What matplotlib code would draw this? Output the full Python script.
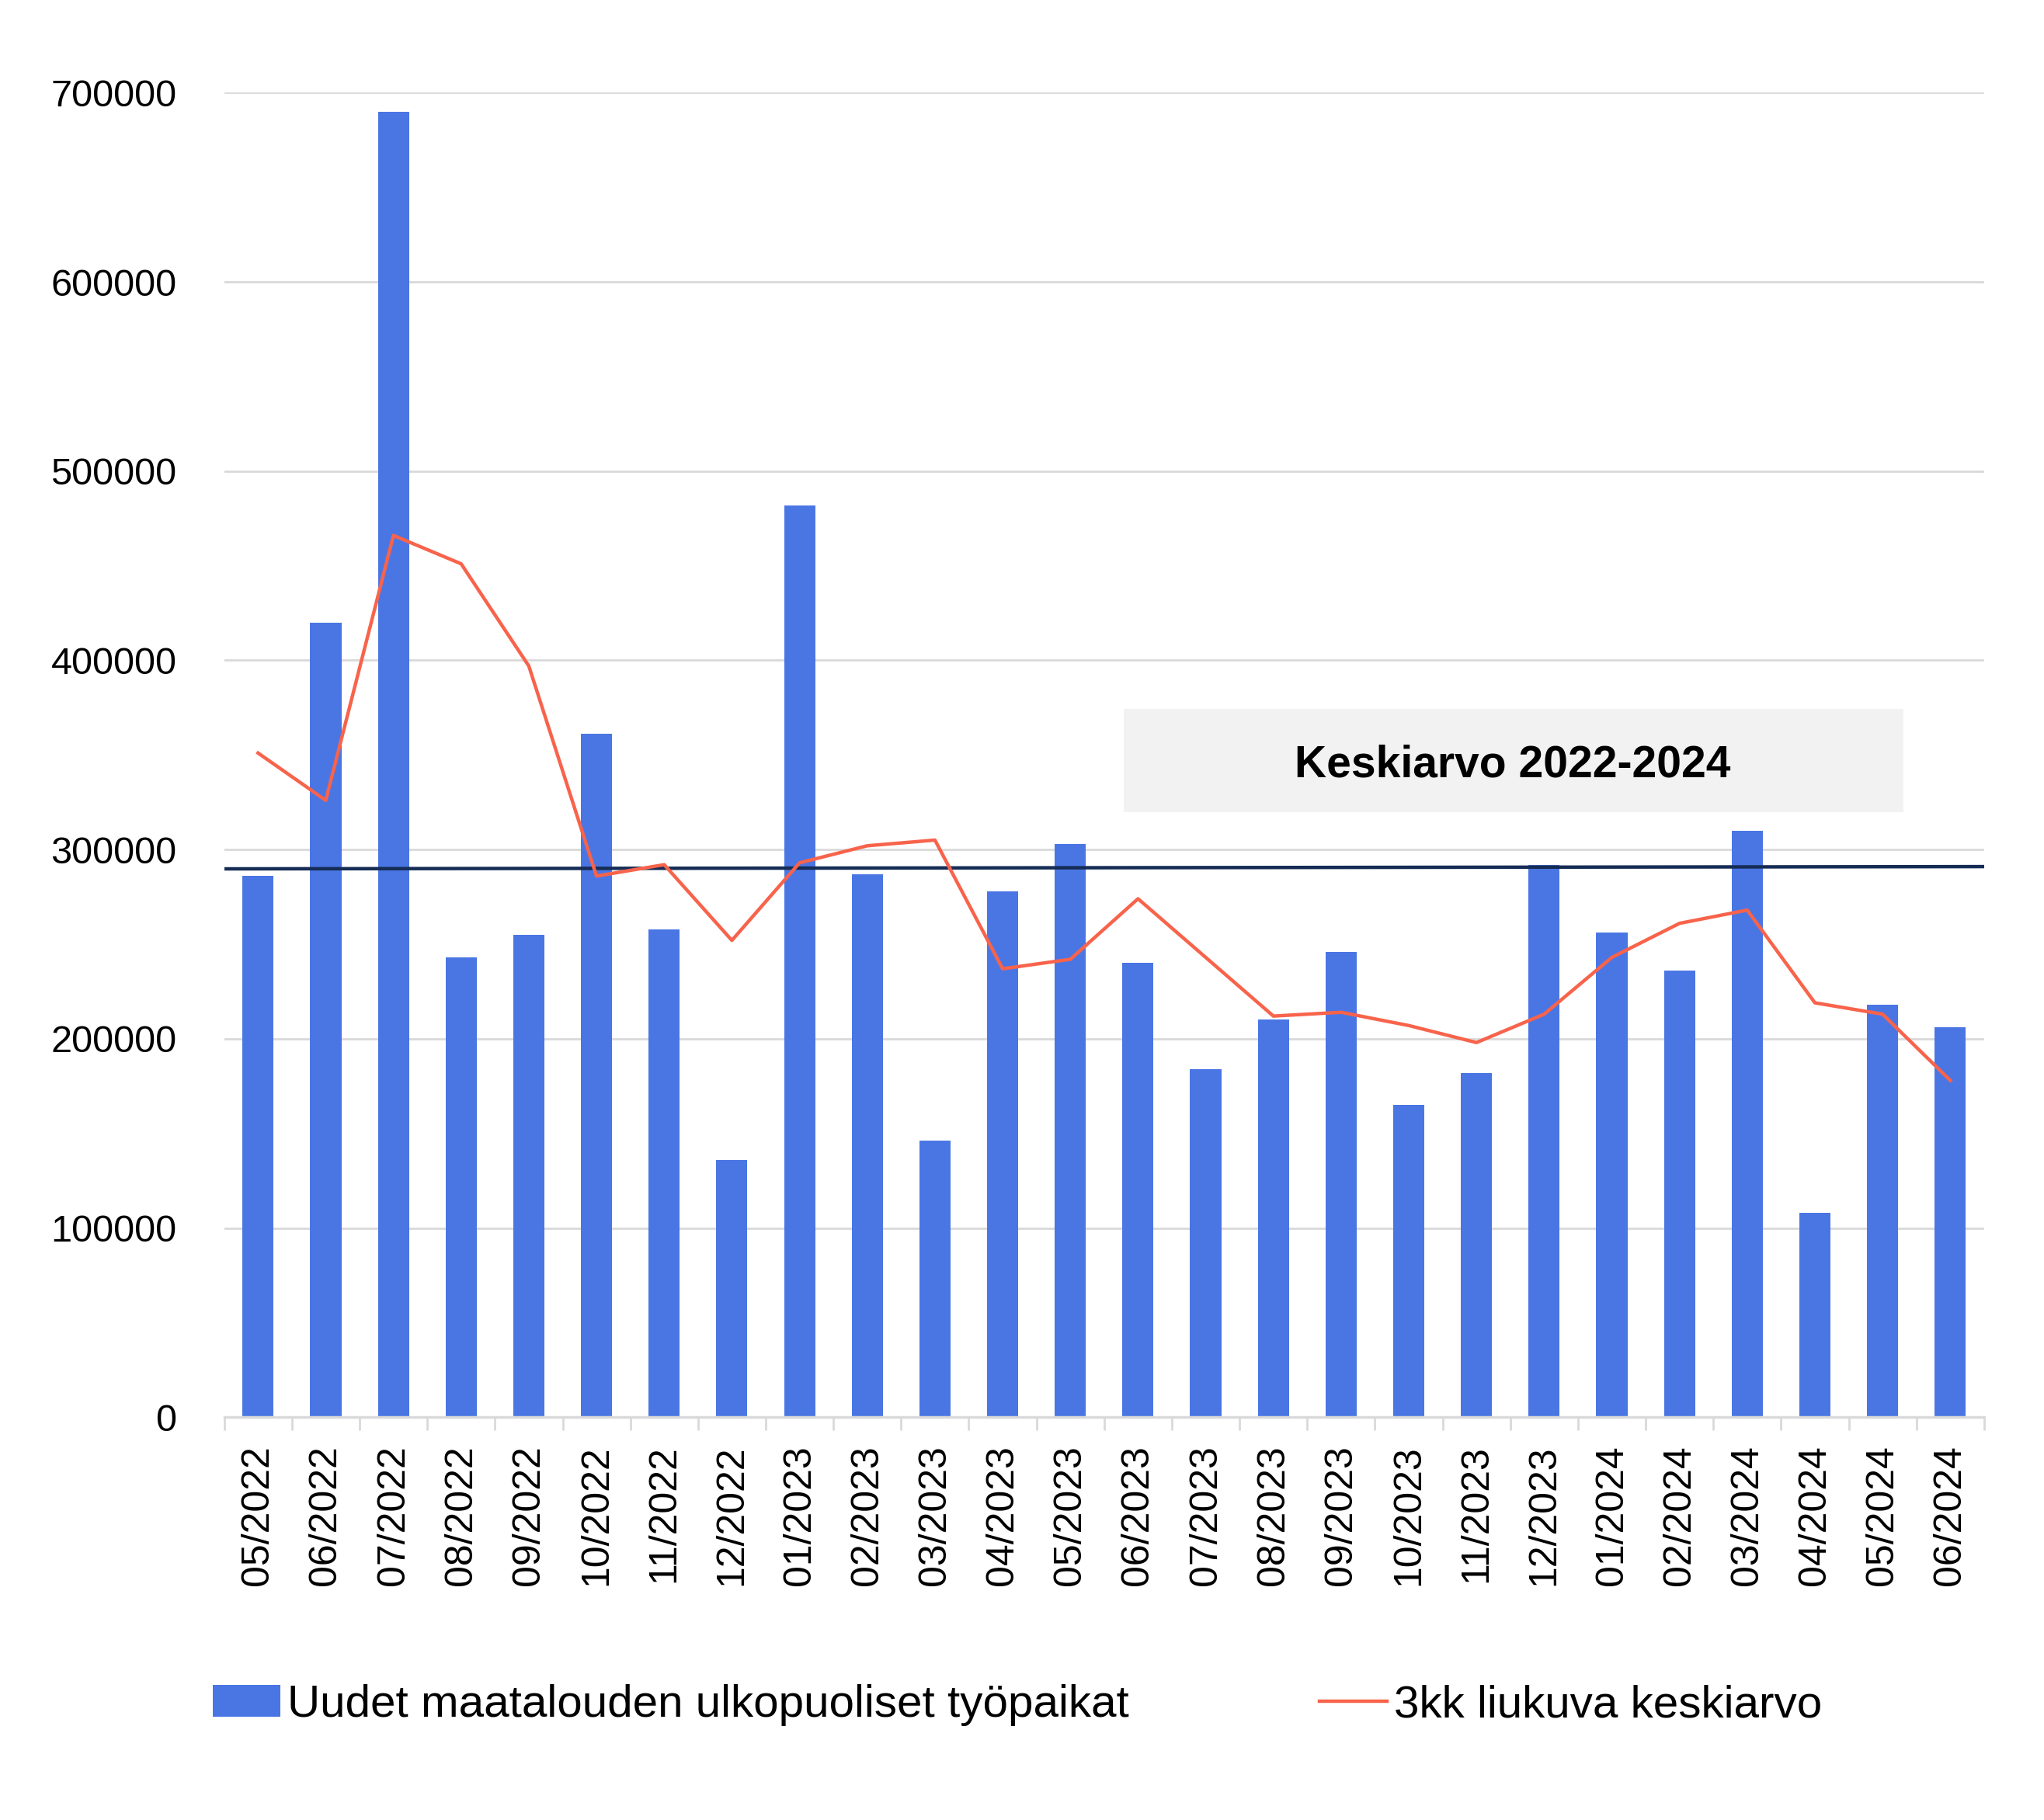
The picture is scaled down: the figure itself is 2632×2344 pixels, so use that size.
import matplotlib
matplotlib.use("Agg")
import matplotlib.pyplot as plt
import numpy as np
from matplotlib.patches import Rectangle

plt.rcParams['font.family'] = ['Liberation Sans', 'DejaVu Sans']

months = ['05/2022', '06/2022', '07/2022', '08/2022', '09/2022', '10/2022', '11/2022',
          '12/2022', '01/2023', '02/2023', '03/2023', '04/2023', '05/2023', '06/2023',
          '07/2023', '08/2023', '09/2023', '10/2023', '11/2023', '12/2023', '01/2024',
          '02/2024', '03/2024', '04/2024', '05/2024', '06/2024']

# uudet tyopaikat kuukausittain
jobs = [286000, 420000, 690000, 243000, 255000, 361000, 258000, 136000, 482000,
        287000, 146000, 278000, 303000, 240000, 184000, 210000, 246000, 165000,
        182000, 292000, 256000, 236000, 310000, 108000, 218000, 206000]

# 3kk liukuva keskiarvo
rolling = [351000, 326000, 466000, 451000, 397000, 286000, 292000, 252000, 293000,
           302000, 305000, 237000, 242000, 274000, 243000, 212000, 214000, 207000,
           198000, 213000, 243000, 261000, 268000, 219000, 213000, 178000]

# keskiarvo 2022-2024 (alku, loppu)
avg_line = [289800, 291000]

blue = '#4a76e4'
red = '#f8634b'
navy = '#152c55'
grid = '#d9d9d9'

fig = plt.figure(figsize=(26.32, 23.44), dpi=100)
ax = fig.add_axes([0.1097, 0.2213, 0.861, 0.7278])

x = np.arange(len(months))
bars = ax.bar(x, jobs, width=0.46, color=blue, zorder=2,
              label='Uudet maatalouden ulkopuoliset työpaikat')
line, = ax.plot(x, rolling, color=red, lw=3.2, zorder=4, label='3kk liukuva keskiarvo')
ax.plot([-0.5, len(months) - 0.5], avg_line, color=navy, lw=3.2, zorder=3)

ax.set_xlim(-0.5, len(months) - 0.5)
ax.set_ylim(0, 700000)
ax.set_yticks(np.arange(0, 700001, 100000))
ax.set_yticklabels([str(v) for v in range(0, 700001, 100000)])
ax.yaxis.grid(True, color=grid, lw=2)
ax.set_axisbelow(True)

ax.set_xticks(x)
ax.set_xticklabels(months, rotation=90)
ax.set_xticks(np.arange(-0.5, len(months)), minor=True)
ax.tick_params(axis='x', which='major', length=0, pad=26, labelsize=36)
ax.tick_params(axis='x', which='minor', length=12, width=2, color=grid)
ax.tick_params(axis='y', length=0, pad=44, labelsize=35)

for s in ['top', 'right', 'left']:
    ax.spines[s].set_visible(False)
ax.spines['bottom'].set_color(grid)
ax.spines['bottom'].set_linewidth(2.5)

# selite laatikko
ax.add_patch(Rectangle((0.511, 0.4567), 0.443, 0.0778, transform=ax.transAxes,
                       facecolor='#f2f2f2', edgecolor='none', zorder=1))
ax.text(0.732, 0.492, 'Keskiarvo 2022-2024', transform=ax.transAxes,
        ha='center', va='center', fontsize=41, fontweight='bold', zorder=5)

fig.legend([bars, line], [bars.get_label(), line.get_label()],
           loc='center left', bbox_to_anchor=(0.084, 0.063), ncol=2, frameon=False,
           fontsize=42, handlelength=1.5, handleheight=0.7, handletextpad=0.15,
           columnspacing=4.2)

fig.savefig('out.png', dpi=100)
